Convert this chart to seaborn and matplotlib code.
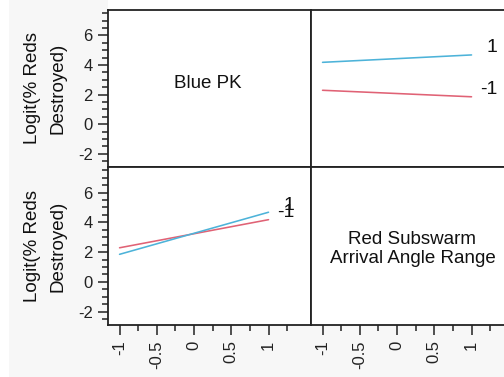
import matplotlib
matplotlib.use("Agg")
import matplotlib.pyplot as plt
import matplotlib.patches as mpatches
from matplotlib.ticker import FixedLocator, NullFormatter
import seaborn as sns
import pandas as pd

# ---- data (cell means of Logit(% Reds Destroyed)) ----
levels = [-1, 1]
blue_pk_levels = [-1, -1, 1, 1]
angle_levels = [-1, 1, -1, 1]
logit_values = [2.29, 1.85, 4.18, 4.68]

y_major = [-2, 0, 2, 4, 6]
x_major = [-1, -0.5, 0, 0.5, 1]
x_major_labels = ["-1", "-0.5", "0", "0.5", "1"]
x_minor = [-0.75, -0.25, 0.25, 0.75, 1.25]
y_minor = [v / 2 for v in range(-5, 16)]

factor1 = "Blue PK"
factor2 = "Red Subswarm\nArrival Angle Range"
ylabel = "Logit(% Reds\nDestroyed)"

df = pd.DataFrame({"PK": blue_pk_levels, "Angle": angle_levels, "Logit": logit_values})

sns.set_style("ticks")
plt.rcParams["font.family"] = ["Liberation Sans", "DejaVu Sans"]

palette = {1: "#4DB3D9", -1: "#E06275"}
spine_c = "#222222"

W, H = 504, 377
fig = plt.figure(figsize=(W / 100, H / 100), dpi=100)
fig.patch.set_facecolor("white")
# light gray label area
fig.add_artist(mpatches.Rectangle((9 / W, 0), (108 - 9) / W, 1, transform=fig.transFigure,
                                  facecolor="#f7f7f7", edgecolor="none", zorder=0))
fig.add_artist(mpatches.Rectangle((9 / W, 0), 1, (H - 325) / H, transform=fig.transFigure,
                                  facecolor="#f7f7f7", edgecolor="none", zorder=0))

pw = 203 / W
left1 = 108 / W
left2 = 311 / W
top_b = 1 - 167 / H
top_h = 157 / H
bot_b = 1 - 325 / H
bot_h = 158 / H

ax_tl = fig.add_axes([left1, top_b, pw, top_h])
ax_tr = fig.add_axes([left2, top_b, pw, top_h])
ax_bl = fig.add_axes([left1, bot_b, pw, bot_h])
ax_br = fig.add_axes([left2, bot_b, pw, bot_h])

xlim = (-1.155, 1.57)
ylim = (-2.9, 7.72)

# top-right: x = angle, lines by Blue PK
sns.lineplot(data=df, x="Angle", y="Logit", hue="PK", palette=palette, ax=ax_tr,
             legend=False, linewidth=1.15, errorbar=None)
# bottom-left: x = Blue PK, lines by angle
sns.lineplot(data=df, x="PK", y="Logit", hue="Angle", palette=palette, ax=ax_bl,
             legend=False, linewidth=1.15, errorbar=None)

for ax in (ax_tl, ax_tr, ax_bl, ax_br):
    ax.set_facecolor("white")
    ax.set_xlim(*xlim)
    ax.set_ylim(*ylim)
    for s in ax.spines.values():
        s.set_visible(True)
        s.set_color(spine_c)
        s.set_linewidth(1.3)
    ax.set_xlabel("")
    ax.set_ylabel("")
    ax.tick_params(which="major", length=7, width=1.1, color=spine_c, labelsize=12,
                   labelcolor="#222222", pad=4)
    ax.tick_params(which="minor", length=4, width=1.1, color=spine_c)

# end labels
for lev in levels:
    sub = df[df["PK"] == lev].sort_values("Angle")
    ax_tr.text(1.35, sub["Logit"].iloc[-1] + 0.5, str(lev), ha="right", va="center",
               fontsize=14, color="#111111")
    sub2 = df[df["Angle"] == lev].sort_values("PK")
    ax_bl.text(1.35, sub2["Logit"].iloc[-1] + 0.45, str(lev), ha="right", va="center",
               fontsize=14, color="#111111")

ax_tl.text(0.49, 0.53, factor1, transform=ax_tl.transAxes, ha="center", va="center",
           fontsize=13.5, color="#111111")
ax_br.text(0.5, 0.48, factor2, transform=ax_br.transAxes, ha="center", va="center",
           fontsize=13.5, color="#111111", linespacing=1.2)

for ax in (ax_tl, ax_bl):
    ax.yaxis.set_major_locator(FixedLocator(y_major))
    ax.yaxis.set_minor_locator(FixedLocator(y_minor))
    ax.set_yticklabels([str(v) for v in y_major])
    ax.set_ylabel(ylabel, fontsize=13.5, color="#111111", labelpad=8, linespacing=1.7)
for ax in (ax_tr, ax_br):
    ax.tick_params(axis="y", which="both", left=False, labelleft=False)

for ax in (ax_bl, ax_br):
    ax.xaxis.set_major_locator(FixedLocator(x_major))
    ax.xaxis.set_minor_locator(FixedLocator(x_minor))
    ax.set_xticklabels(x_major_labels, rotation=90)
    ax.xaxis.set_minor_formatter(NullFormatter())
for ax in (ax_tl, ax_tr):
    ax.tick_params(axis="x", which="both", bottom=False, labelbottom=False)

fig.savefig("out.png", dpi=100, facecolor=fig.get_facecolor())
